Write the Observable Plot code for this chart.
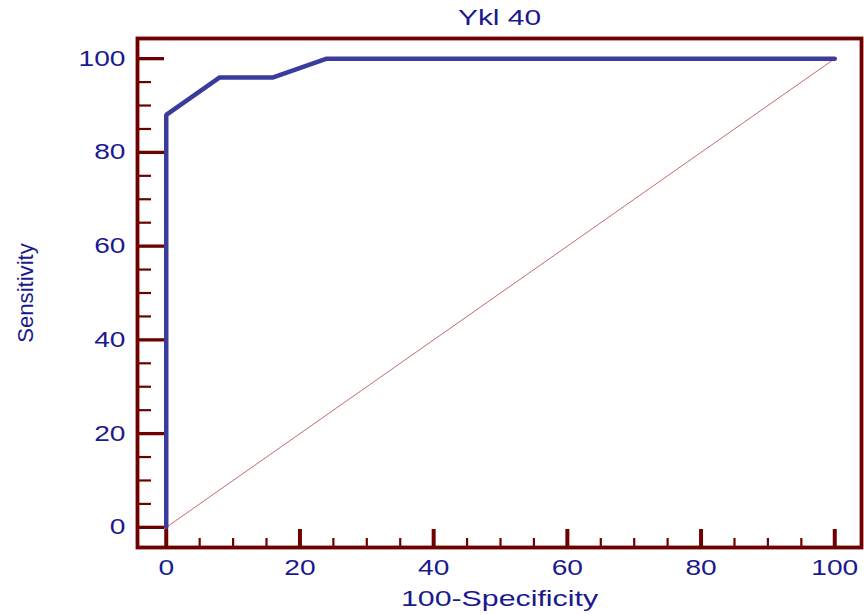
<!DOCTYPE html>
<html>
<head>
<meta charset="utf-8">
<script src="https://cdn.jsdelivr.net/npm/d3@7"></script>
<script src="https://cdn.jsdelivr.net/npm/@observablehq/plot@0.6"></script>
<style>
  html, body { margin: 0; padding: 0; background: #fff; }
  svg { display: block; }
</style>
</head>
<body>
<div id="chart"></div>
<script>
// ROC curve points (100-Specificity, Sensitivity)
const fpr = [0, 0, 8, 16, 24, 100];
const tpr = [0, 88, 96, 96, 100, 100];
// reference diagonal
const diagX = [0, 100];
const diagY = [0, 100];
// axis ticks
const majorTicks = [0, 20, 40, 60, 80, 100];
const minorTicks = [5, 10, 15, 25, 30, 35, 45, 50, 55, 65, 70, 75, 85, 90, 95];

const title = "Ykl 40";
const xLabel = "100-Specificity";
const yLabel = "Sensitivity";

const roc = fpr.map((x, i) => ({x, y: tpr[i]}));
const diag = diagX.map((x, i) => ({x, y: diagY[i]}));

const W = 864, H = 615;
const mL = 137, mR = 3, mT = 38, mB = 68;
const plotW = W - mL - mR, plotH = H - mT - mB;
const maroon = "#6e0000";
const navy = "#1a1a8e";
const blue = "#3b3b9e";
const font = "'Liberation Sans', Arial, sans-serif";

const chart = Plot.plot({
  width: W,
  height: H,
  marginLeft: mL,
  marginRight: mR,
  marginTop: mT,
  marginBottom: mB,
  style: {fontFamily: font, background: "#fff", overflow: "visible"},
  x: {domain: [-4.3, 104], axis: null},
  y: {domain: [-4.3, 104.3], axis: null},
  marks: [
    // inward ticks
    Plot.tickX(majorTicks, {x: d => d, stroke: maroon, strokeWidth: 4, insetTop: plotH - 18}),
    Plot.tickX(minorTicks, {x: d => d, stroke: maroon, strokeWidth: 2.2, insetTop: plotH - 9}),
    Plot.tickY(majorTicks, {y: d => d, stroke: maroon, strokeWidth: 3.3, insetRight: plotW - 27}),
    Plot.tickY(minorTicks, {y: d => d, stroke: maroon, strokeWidth: 2.2, insetRight: plotW - 14}),
    Plot.axisX(majorTicks, {anchor: "bottom", tickSize: 0, tickPadding: 12, fontSize: 22, fill: navy, label: null}),
    Plot.axisY(majorTicks, {anchor: "left", tickSize: 0, tickPadding: 12, fontSize: 22, fill: navy, label: null}),
    Plot.line(diag, {x: "x", y: "y", stroke: "#c86a6a", strokeWidth: 1}),
    Plot.line(roc, {x: "x", y: "y", stroke: blue, strokeWidth: 4.5, strokeLinejoin: "miter"}),
    Plot.frame({stroke: maroon, strokeWidth: 3.8}),
    Plot.text([title], {frameAnchor: "top", lineAnchor: "middle", dy: -20, fontSize: 21.5, fill: navy, text: d => d}),
    Plot.text([xLabel], {frameAnchor: "bottom", lineAnchor: "middle", dy: 52, fontSize: 21.5, fill: navy, text: d => d}),
    Plot.text([yLabel], {frameAnchor: "left", textAnchor: "middle", lineAnchor: "middle", dx: -111, rotate: -90, fontSize: 21.5, fill: navy, text: d => d})
  ]
});

document.getElementById("chart").appendChild(chart);

// widen glyphs horizontally to match the stretched look of the original
const tickSet = new Set(majorTicks.map(String));
chart.querySelectorAll("text").forEach(t => {
  const s = t.textContent;
  let f = 1.28;
  if (s === yLabel) f = 1.03;
  else if (s === title) f = 1.39;
  else if (s === xLabel) f = 1.41;
  else if (!tickSet.has(s)) return;
  const len = t.getComputedTextLength();
  t.setAttribute("textLength", (len * f).toFixed(1));
  t.setAttribute("lengthAdjust", "spacingAndGlyphs");
});
</script>
</body>
</html>
